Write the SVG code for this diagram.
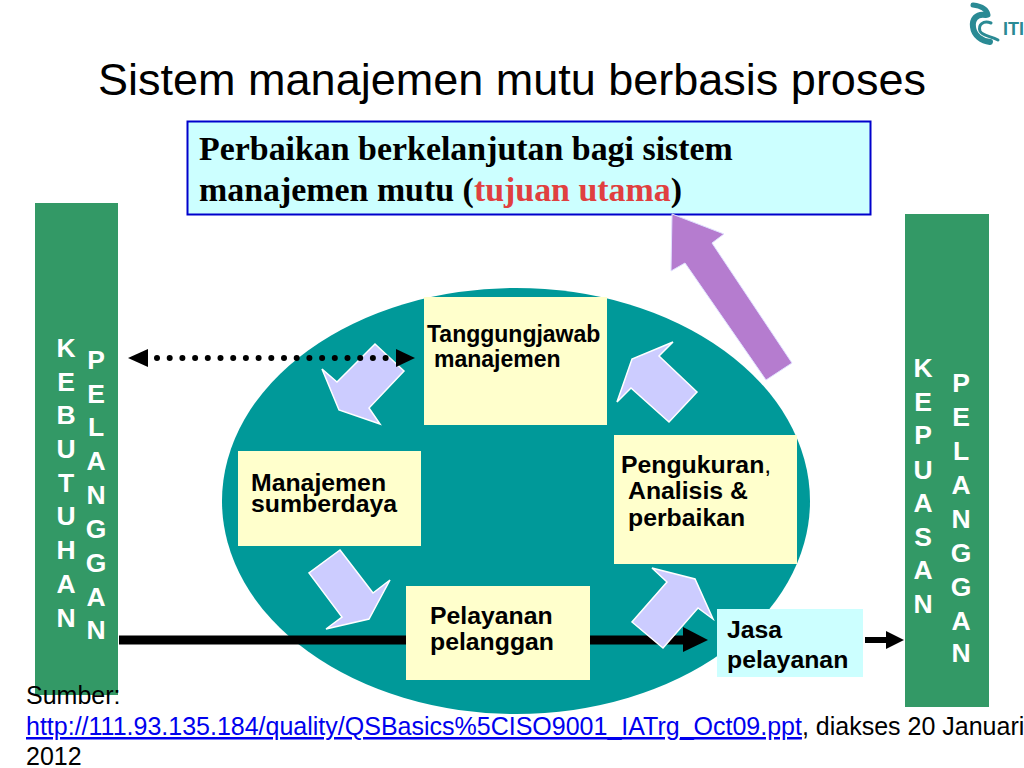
<svg xmlns="http://www.w3.org/2000/svg" width="1024" height="768" viewBox="0 0 1024 768">
<style>
text{font-family:"Liberation Sans",Arial,sans-serif;fill:#000}
.b{font-weight:bold}
.side{fill:#339966}
.note{fill:#ffffcc}
.arr{fill:#ccccff;stroke:#ffffff;stroke-width:1.5;stroke-linejoin:miter}
.lab{font-size:24.800px;font-weight:bold}
.lab2{font-size:23px;font-weight:bold}
.v{font-size:26.500px;font-weight:bold;fill:#fff;text-anchor:middle}
.s{font-size:25px}
.ser{font-family:"Liberation Serif","Times New Roman",serif;font-weight:bold;font-size:33.900px}
.logo{fill:none;stroke:#2a8a94;stroke-linecap:round}
</style>
<rect width="1024" height="768" fill="#ffffff"/>
<g id="logo">
<path class="logo" stroke-width="5" d="M973 5C981 6 987 9 988 15"/>
<path class="logo" stroke-width="6" d="M986 15C976 13 972 20 973 27C974 36 982 41 990 42"/>
<path class="logo" stroke-width="3" d="M991 23C983 20 978 25 980 31C982 36 991 36 998 40"/>
<text x="1003" y="35" class="b" style="font-size:18px;fill:#2a8a94">ITI</text>
</g>
<text id="title" x="512" y="95" text-anchor="middle" style="font-size:45px">Sistem manajemen mutu berbasis proses</text>
<g id="goal">
<rect x="187.500" y="121.500" width="683" height="93" fill="#ccffff" stroke="#0000cc" stroke-width="2"/>
<text class="ser" x="199" y="160">Perbaikan berkelanjutan bagi sistem</text>
<text class="ser" x="199" y="201">manajemen mutu (<tspan fill="#e04040">tujuan utama</tspan>)</text>
</g>
<g id="kebutuhan">
<rect class="side" x="35" y="203" width="83" height="492"/>
<text class="v" x="66" y="357">K</text><text class="v" x="66" y="391">E</text><text class="v" x="66" y="424">B</text><text class="v" x="66" y="458">U</text><text class="v" x="66" y="492">T</text><text class="v" x="66" y="525">U</text><text class="v" x="66" y="559">H</text><text class="v" x="66" y="593">A</text><text class="v" x="66" y="627">N</text>
<text class="v" x="96" y="369">P</text><text class="v" x="96" y="403">E</text><text class="v" x="96" y="436">L</text><text class="v" x="96" y="470">A</text><text class="v" x="96" y="504">N</text><text class="v" x="96" y="538">G</text><text class="v" x="96" y="572">G</text><text class="v" x="96" y="606">A</text><text class="v" x="96" y="639">N</text>
</g>
<g id="kepuasan">
<rect class="side" x="905" y="214" width="84" height="493"/>
<text class="v" x="923" y="377">K</text><text class="v" x="923" y="411">E</text><text class="v" x="923" y="444">P</text><text class="v" x="923" y="479">U</text><text class="v" x="923" y="512">A</text><text class="v" x="923" y="546">S</text><text class="v" x="923" y="579">A</text><text class="v" x="923" y="613">N</text>
<text class="v" x="961" y="392">P</text><text class="v" x="961" y="426">E</text><text class="v" x="961" y="460">L</text><text class="v" x="961" y="494">A</text><text class="v" x="961" y="528">N</text><text class="v" x="961" y="562">G</text><text class="v" x="961" y="596">G</text><text class="v" x="961" y="630">A</text><text class="v" x="961" y="662">N</text>
</g>
<ellipse id="cycle" cx="516" cy="501" rx="294" ry="213" fill="#009999"/>
<g id="connectors">
<polygon class="arr" points="375,344 404,371 369,408 380,424 339,410 322,369 337,382"/>
<polygon class="arr" points="673,342 659,356 697,392 669,422 631,388 617,402 632,359"/>
<polygon class="arr" points="340,550 373,593 390,580 369,619 326,629 342,617 309,573"/>
<g fill="#000">
<circle cx="157" cy="358" r="3"/><circle cx="169.700" cy="358" r="3"/><circle cx="182.400" cy="358" r="3"/><circle cx="195.100" cy="358" r="3"/><circle cx="207.800" cy="358" r="3"/><circle cx="220.500" cy="358" r="3"/><circle cx="233.200" cy="358" r="3"/><circle cx="245.900" cy="358" r="3"/><circle cx="258.600" cy="358" r="3"/><circle cx="271.300" cy="358" r="3"/><circle cx="284" cy="358" r="3"/><circle cx="296.700" cy="358" r="3"/><circle cx="309.400" cy="358" r="3"/><circle cx="322.100" cy="358" r="3"/><circle cx="334.800" cy="358" r="3"/><circle cx="347.500" cy="358" r="3"/><circle cx="360.200" cy="358" r="3"/><circle cx="372.900" cy="358" r="3"/><circle cx="385.600" cy="358" r="3"/>
<polygon points="128,358 148,349 148,367"/>
<polygon points="415,358 396,349 396,367"/>
<rect x="119" y="635.500" width="566" height="9"/>
<polygon points="708,640 683,627 683,652"/>
<rect x="865" y="637" width="22" height="6"/>
<polygon points="904,640 886,631 886,649"/>
</g>
<polygon class="arr" points="652,568 695,579 713,619 698,608 663,648 632,622 667,582"/>
<polygon fill="#b57ccf" stroke="#e0e0ff" stroke-width="1" points="672,214 724,234 712,243 792,363 766,380 685,263 671,271"/>
</g>
<g id="tanggungjawab">
<rect class="note" x="424" y="297" width="183" height="128"/>
<text class="lab2" x="427" y="342">Tanggungjawab</text>
<text class="lab2" x="434" y="367">manajemen</text>
</g>
<g id="sumberdaya">
<rect class="note" x="238" y="451" width="183" height="95"/>
<text class="lab" x="251" y="491">Manajemen</text>
<text class="lab" x="251" y="512">sumberdaya</text>
</g>
<g id="pelayanan">
<rect class="note" x="406" y="586" width="184" height="94"/>
<text class="lab" x="430" y="624">Pelayanan</text>
<text class="lab" x="430" y="650">pelanggan</text>
</g>
<g id="pengukuran">
<rect class="note" x="614" y="435" width="183" height="129"/>
<text class="lab" x="621" y="473">Pengukuran<tspan font-weight="normal">,</tspan></text>
<text class="lab" x="628" y="499">Analisis &amp;</text>
<text class="lab" x="628" y="526">perbaikan</text>
</g>
<g id="jasa">
<rect x="717" y="609" width="146" height="68" fill="#ccffff"/>
<text class="lab" x="727" y="638">Jasa</text>
<text class="lab" x="727" y="668">pelayanan</text>
</g>
<g id="source">
<text class="s" x="26" y="704">Sumber:</text>
<text class="s" x="26" y="735"><tspan fill="#0000ee" text-decoration="underline">http://111.93.135.184/quality/QSBasics%5CISO9001_IATrg_Oct09.ppt</tspan>, diakses 20 Januari</text>
<text class="s" x="26" y="765">2012</text>
</g>
</svg>
